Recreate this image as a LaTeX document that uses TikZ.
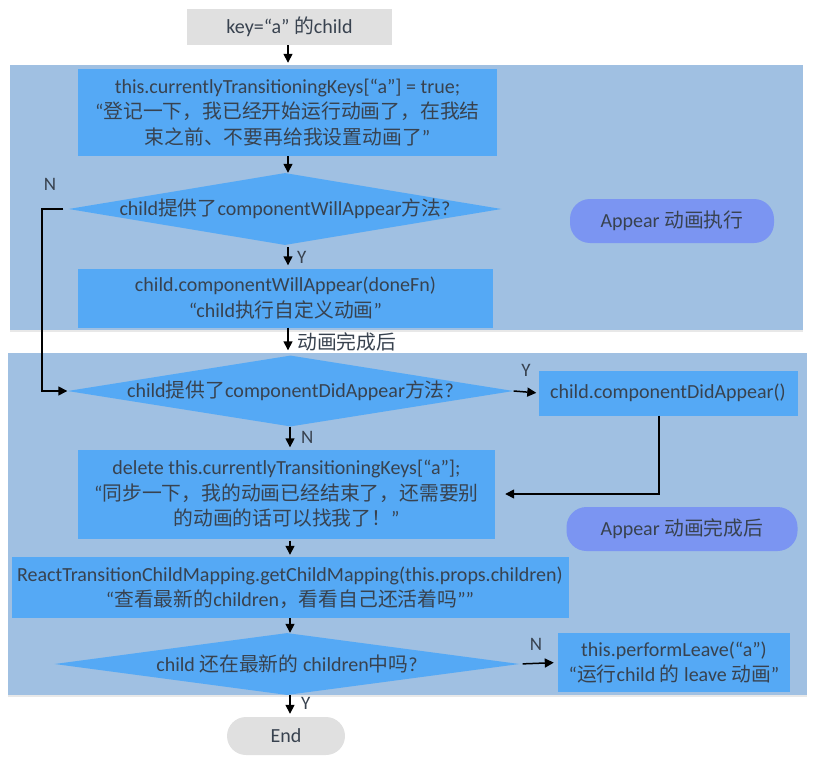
\documentclass[tikz,border=0pt]{standalone}
\usepackage{fontspec}
\setmainfont{Carlito}
\newfontfamily\cjk{Noto Sans CJK SC}[Scale=0.99]
\newcommand\zh[1]{{\cjk #1}}
\usetikzlibrary{shapes.geometric,arrows.meta,shadows}
\definecolor{panel}{HTML}{A0C0E2}
\definecolor{boxblue}{HTML}{55A9F5}
\definecolor{pill}{HTML}{7B95F2}
\definecolor{graybox}{HTML}{E0E0E0}
\definecolor{txt}{HTML}{38424F}
\begin{document}
\begin{tikzpicture}[x=1pt,y=-1pt,
  every node/.style={font=\fontsize{20}{25.5}\selectfont, text=txt},
  panelbox/.style={fill=panel, drop shadow={opacity=0.18,shadow xshift=0pt,shadow yshift=-2pt}},
  bluebox/.style={rectangle, fill=boxblue, inner sep=0pt, align=center},
  dia/.style={diamond, fill=boxblue, inner sep=0pt, aspect=6},
  ditext/.style={inner sep=0pt},
  pillbox/.style={rectangle, rounded corners=20pt, fill=pill, inner sep=0pt},
  graynode/.style={rectangle, fill=graybox, inner sep=0pt},
  arr/.style={draw=black, line width=1.5pt, -{Triangle[length=9pt,width=9pt]}},
  lbl/.style={inner sep=0pt, font=\fontsize{19}{20}\selectfont, text=txt}
]
\useasboundingbox (0,0) rectangle (814,760);
% panels
\path[panelbox] (10,65) rectangle (803,330);
\path[panelbox] (8,353) rectangle (807,695);

% nodes
\node[graynode, minimum width=205, minimum height=36] (top) at (289.5,27) {key=“a” \zh{的}child};
\node[bluebox, minimum width=419, minimum height=87] (b1) at (287.5,112.5)
  {this.currentlyTransitioningKeys[“a”] = true;\\“\zh{登记一下，我已经开始运行动画了，在我结}\\\zh{束之前、不要再给我设置动画了}”};
\node[dia, minimum width=433, minimum height=72] (d1) at (285,209) {};
\node[ditext] (t1) at (d1.center) {child\zh{提供了}componentWillAppear\zh{方法}?};
\node[bluebox, minimum width=415, minimum height=59] (b2) at (285.5,298)
  {child.componentWillAppear(doneFn)\\“child\zh{执行自定义动画}”};
\node[pillbox, minimum width=204, minimum height=44] (p1) at (672,221) {Appear \zh{动画执行}};

\node[dia, minimum width=446, minimum height=71] (d2) at (290.5,391) {};
\node[ditext] (t2) at (d2.center) {child\zh{提供了}componentDidAppear\zh{方法}?};
\node[bluebox, minimum width=259, minimum height=45] (b3) at (668,393) {child.componentDidAppear()};
\node[bluebox, minimum width=417, minimum height=89] (b4) at (286.5,494)
  {delete this.currentlyTransitioningKeys[“a”];\\“\zh{同步一下，我的动画已经结束了，还需要别}\\\zh{的动画的话可以找我了！}”};
\node[pillbox, minimum width=231, minimum height=44] (p2) at (682,529) {Appear \zh{动画完成后}};
\node[bluebox, minimum width=557, minimum height=61] (b5) at (290,587.5)
  {ReactTransitionChildMapping.getChildMapping(this.props.children)\\“\zh{查看最新的}children\zh{，看看自己还活着吗}””};
\node[dia, minimum width=465, minimum height=62] (d3) at (287,664) {};
\node[ditext] (t3) at (d3.center) {child \zh{还在最新的} children\zh{中吗}?};
\node[bluebox, minimum width=232, minimum height=59] (b6) at (674,662.5)
  {this.performLeave(“a”)\\“\zh{运行}child \zh{的} leave \zh{动画}”};
\node[graynode, rounded corners=19pt, minimum width=118, minimum height=38] (end) at (286,736) {End};

% labels
\node[lbl] (lN1) at (50,184) {N};
\node[lbl, anchor=west] (lY1) at (297,257) {Y};
\node[lbl, anchor=west, font=\fontsize{20}{22}\selectfont] (lA) at (297,342) {\zh{动画完成后}};
\node[lbl] (lY2) at (526,370) {Y};
\node[lbl, anchor=west] (lN2) at (301,437) {N};
\node[lbl] (lN3) at (536,644) {N};
\node[lbl, anchor=west] (lY3) at (301,703) {Y};

% connectors
\draw[arr, shorten >=6pt] (top.south -| 288,0) -- (b1.north -| 288,0);
\draw[arr] (b1.south -| 288,0) -- (d1.north -| 288,0);
\draw[arr, shorten <=2pt, shorten >=3pt] (d1.south -| 288,0) -- (b2.north -| 288,0);
\draw[arr, shorten >=5pt] (b2.south -| 288,0) -- (d2.north -| 288,0);
\draw[arr, shorten <=5pt] (d1.west) -- (42,209) |- (d2.west);
\draw[arr, shorten >=2pt] (d2.east) -- (b3.west);
\draw[arr, shorten >=10pt] (b3.south -| 659,0) |- (b4.east);
\draw[arr, shorten >=2pt] (d2.south -| 290,0) -- (b4.north -| 290,0);
\draw[arr, shorten <=2pt, shorten >=2pt] (b4.south -| 290,0) -- (b5.north -| 290,0);
\draw[arr] (b5.south -| 290,0) -- (d3.north -| 290,0);
\draw[arr, shorten <=3pt, shorten >=4pt] (d3.east) -- (b6.west);
\draw[arr, shorten >=3pt] (d3.south -| 290,0) -- (end.north -| 290,0);
\end{tikzpicture}
\end{document}
